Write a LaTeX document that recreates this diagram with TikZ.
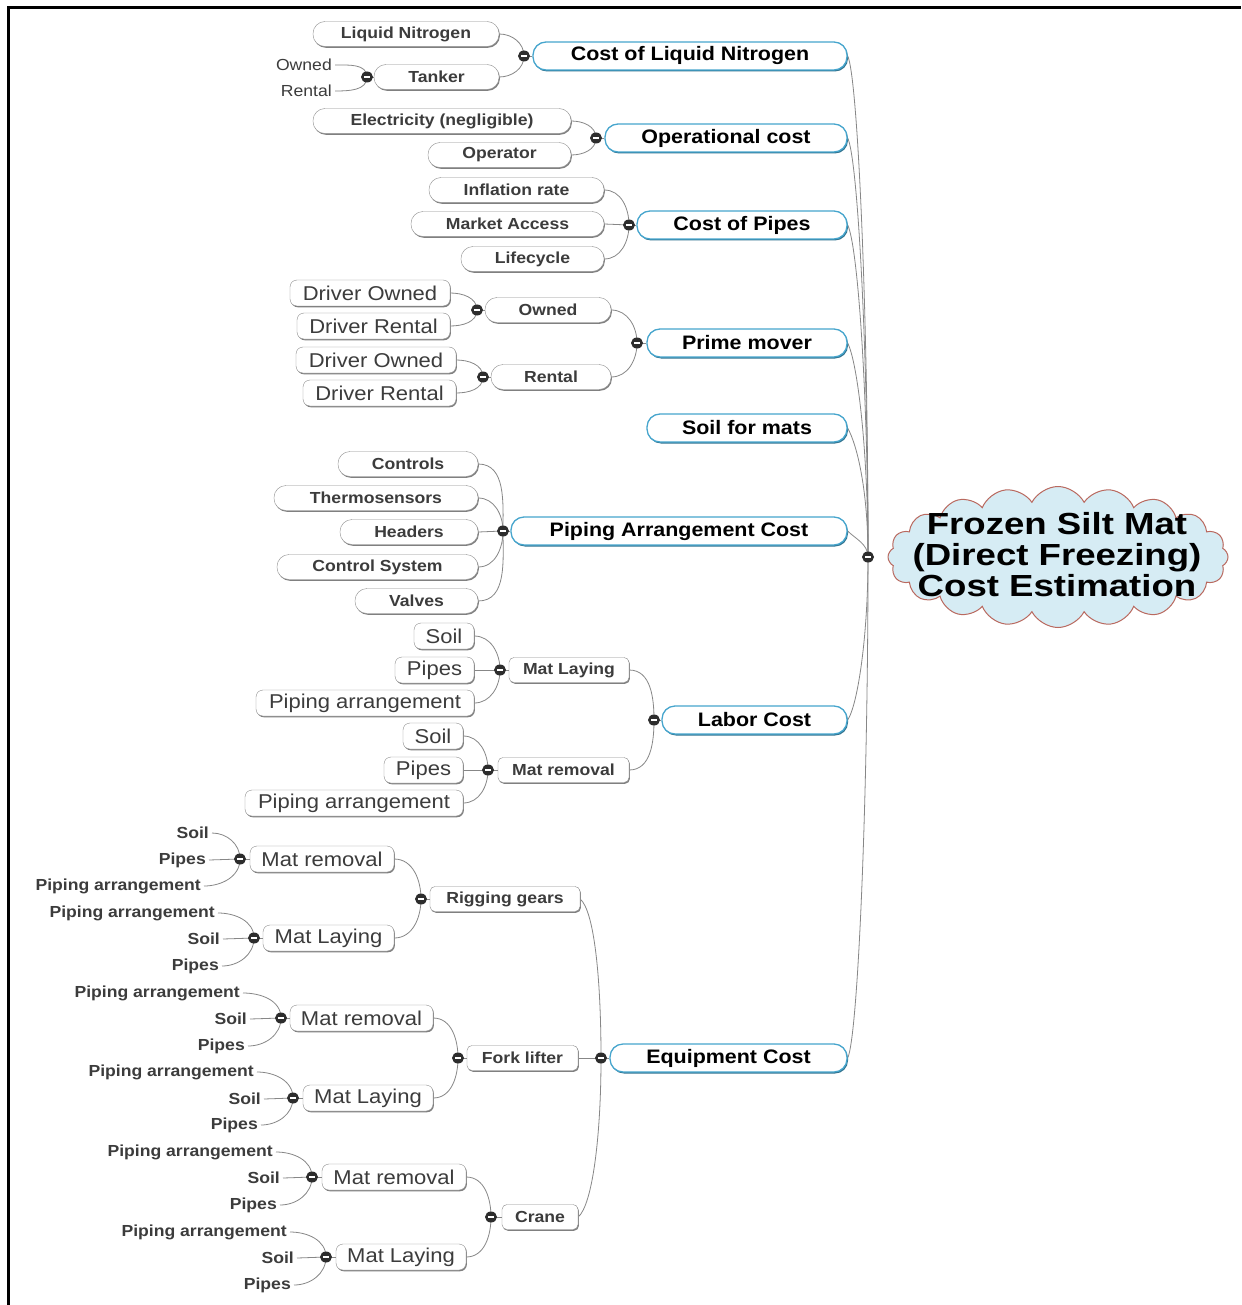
\documentclass[tikz,border=0pt]{standalone}
\usepackage{fontspec}
\setmainfont{Liberation Sans}[FakeStretch=1.1]
\newfontfamily\titlefont{Liberation Sans}[FakeStretch=1.2]
\usetikzlibrary{shapes.symbols,shapes.geometric,shadows,backgrounds}

\definecolor{mainblue}{RGB}{70,165,205}
\definecolor{linegray}{RGB}{135,135,135}
\definecolor{pillgray}{RGB}{140,140,140}
\definecolor{textgray}{RGB}{60,60,60}
\definecolor{hubgray}{RGB}{45,45,45}
\definecolor{cloudfill}{RGB}{214,236,244}
\definecolor{cloudline}{RGB}{185,105,95}

\tikzset{
  boxshadow/.style={drop shadow={shadow xshift=0.9pt, shadow yshift=-1.3pt, fill=black!50, opacity=1}},
  mainbox/.style={draw=mainblue, line width=1.3pt, fill=white, rounded corners=13pt,
    minimum height=28pt, inner sep=0pt, font=\fontsize{19.5}{22}\selectfont\bfseries,
    drop shadow={shadow xshift=1pt, shadow yshift=-1.5pt, fill=mainblue!70!black, opacity=1}},
  pill/.style={draw=pillgray, fill=white, rounded corners=12pt, minimum height=25pt,
    inner sep=0pt, font=\fontsize{16}{18}\selectfont\bfseries, text=textgray, boxshadow},
  tagbox/.style={draw=pillgray, fill=white, rounded corners=5pt, minimum height=25pt,
    inner sep=0pt, font=\fontsize{16}{18}\selectfont\bfseries, text=textgray, boxshadow},
  plainbox/.style={draw=pillgray, fill=white, rounded corners=7pt, minimum height=26pt,
    inner sep=0pt, font=\fontsize{20}{22}\selectfont, text=textgray, boxshadow},
  leaf/.style={anchor=east, inner sep=3pt, font=\fontsize{16}{18}\selectfont\bfseries, text=textgray},
  leafreg/.style={anchor=east, inner sep=3pt, font=\fontsize{16}{18}\selectfont, text=textgray},
  hub/.style={ellipse, fill=hubgray, minimum width=12pt, minimum height=11pt, inner sep=0pt,
    path picture={\draw[white, line width=1.1pt]
      ([xshift=-3pt]path picture bounding box.center) -- ([xshift=3pt]path picture bounding box.center);}},
  conn/.style={draw=linegray, line width=0.8pt},
}

% child above / below / level with its hub
\newcommand\linkup[2]{\draw[conn] (#1.east) to[out=0,in=90] (#2.center);}
\newcommand\linkdn[2]{\draw[conn] (#1.east) to[out=0,in=-90] (#2.center);}
\newcommand\linkflat[2]{\draw[conn] (#1.east) -- (#2.center);}

\begin{document}
\begin{tikzpicture}[x=1pt,y=1pt]
\useasboundingbox (0,0) rectangle (1241,-1305);

% ---------- central topic ----------
\node[cloud, cloud puffs=20, cloud puff arc=125, aspect=2.4, draw=cloudline, line width=1pt,
      fill=cloudfill, minimum width=340pt, minimum height=141pt, inner sep=0pt] (root) at (1058,-557) {};
\node[font=\titlefont\fontsize{30.5}{31}\selectfont\bfseries, align=center] (roottext) at (1057,-555)
  {Frozen Silt Mat\\(Direct Freezing)\\Cost Estimation};
\node[hub] (rh) at (868,-557) {};

% ---------- main branches ----------
\node[mainbox, minimum width=314pt] (m1) at (690,-56)   {Cost of Liquid Nitrogen};
\node[mainbox, minimum width=242pt] (m2) at (726,-138)  {Operational cost};
\node[mainbox, minimum width=210pt] (m3) at (742,-225)  {Cost of Pipes};
\node[mainbox, minimum width=200pt] (m4) at (747,-343)  {Prime mover};
\node[mainbox, minimum width=200pt] (m5) at (747,-428)  {Soil for mats};
\node[mainbox, minimum width=336pt] (m6) at (679,-531)  {Piping Arrangement Cost};
\node[mainbox, minimum width=185pt] (m7) at (754.5,-720) {Labor Cost};
\node[mainbox, minimum width=237pt] (m8) at (728.5,-1058) {Equipment Cost};

\node[hub] (h1) at (524,-56) {};
\node[hub] (h2) at (596,-138) {};
\node[hub] (h3) at (629,-225) {};
\node[hub] (h4) at (637,-343) {};
\node[hub] (h6) at (503,-531) {};
\node[hub] (h7) at (654,-720) {};
\node[hub] (h8) at (601,-1058) {};

% ---------- cost of liquid nitrogen ----------
\node[pill, minimum width=186pt] (p1a) at (406,-34) {Liquid Nitrogen};
\node[pill, minimum width=125pt] (p1b) at (436.5,-77) {Tanker};
\node[hub] (h1b) at (367,-77) {};
\node[leafreg] (l1b1) at (335,-65) {Owned};
\node[leafreg] (l1b2) at (335,-91) {Rental};

% ---------- operational cost ----------
\node[pill, minimum width=258pt] (p2a) at (442,-121) {Electricity (negligible)};
\node[pill, minimum width=143pt] (p2b) at (499.5,-155) {Operator};

% ---------- cost of pipes ----------
\node[pill, minimum width=175pt] (p3a) at (516.5,-190) {Inflation rate};
\node[pill, minimum width=193pt] (p3b) at (507.5,-224) {Market Access};
\node[pill, minimum width=143pt] (p3c) at (532.5,-259) {Lifecycle};

% ---------- prime mover ----------
\node[pill, minimum width=126pt] (p4a) at (548,-310) {Owned};
\node[hub] (h4a) at (477,-310) {};
\node[plainbox, minimum width=160pt] (r4a1) at (370,-293) {Driver Owned};
\node[plainbox, minimum width=153pt] (r4a2) at (373.5,-326) {Driver Rental};
\node[pill, minimum width=120pt] (p4b) at (551,-377) {Rental};
\node[hub] (h4b) at (483,-377) {};
\node[plainbox, minimum width=160pt] (r4b1) at (376,-360) {Driver Owned};
\node[plainbox, minimum width=153pt] (r4b2) at (379.5,-393) {Driver Rental};

% ---------- piping arrangement cost ----------
\node[pill, minimum width=140pt] (p6a) at (408,-464) {Controls};
\node[pill, minimum width=204pt] (p6b) at (376,-498) {Thermosensors};
\node[pill, minimum width=138pt] (p6c) at (409,-532) {Headers};
\node[pill, minimum width=201pt] (p6d) at (377.5,-567) {Control System};
\node[pill, minimum width=123pt] (p6e) at (416.5,-601) {Valves};

% ---------- labor cost ----------
\node[tagbox, minimum width=120pt] (t7a) at (569,-670) {Mat Laying};
\node[hub] (h7a) at (500,-670) {};
\node[plainbox, minimum width=60pt]  (r7a1) at (444,-636) {Soil};
\node[plainbox, minimum width=79pt]  (r7a2) at (434.5,-670) {Pipes};
\node[plainbox, minimum width=218pt] (r7a3) at (365,-703) {Piping arrangement};
\node[tagbox, minimum width=131pt] (t7b) at (563.5,-770) {Mat removal};
\node[hub] (h7b) at (488,-770) {};
\node[plainbox, minimum width=60pt]  (r7b1) at (433,-736) {Soil};
\node[plainbox, minimum width=79pt]  (r7b2) at (423.5,-770) {Pipes};
\node[plainbox, minimum width=218pt] (r7b3) at (354,-803) {Piping arrangement};

% ---------- equipment cost ----------
\node[tagbox, minimum width=150pt] (t8a) at (505,-899) {Rigging gears};
\node[hub] (h8a) at (421,-899) {};
\node[plainbox, minimum width=144pt] (r8a1) at (322,-859) {Mat removal};
\node[hub] (h8a1) at (240,-859) {};
\node[leaf] (l8a1a) at (212,-833) {Soil};
\node[leaf] (l8a1b) at (209,-860) {Pipes};
\node[leaf] (l8a1c) at (204,-886) {Piping arrangement};
\node[plainbox, minimum width=131pt] (r8a2) at (328.5,-938) {Mat Laying};
\node[hub] (h8a2) at (254,-938) {};
\node[leaf] (l8a2a) at (218,-913) {Piping arrangement};
\node[leaf] (l8a2b) at (223,-939) {Soil};
\node[leaf] (l8a2c) at (222,-966) {Pipes};

\node[tagbox, minimum width=111pt] (t8b) at (522.5,-1058) {Fork lifter};
\node[hub] (h8b) at (458,-1058) {};
\node[plainbox, minimum width=143pt] (r8b1) at (361.5,-1018) {Mat removal};
\node[hub] (h8b1) at (281,-1018) {};
\node[leaf] (l8b1a) at (243,-993) {Piping arrangement};
\node[leaf] (l8b1b) at (250,-1019) {Soil};
\node[leaf] (l8b1c) at (248,-1046) {Pipes};
\node[plainbox, minimum width=130pt] (r8b2) at (368,-1098) {Mat Laying};
\node[hub] (h8b2) at (293,-1098) {};
\node[leaf] (l8b2a) at (257,-1072) {Piping arrangement};
\node[leaf] (l8b2b) at (264,-1099) {Soil};
\node[leaf] (l8b2c) at (261,-1125) {Pipes};

\node[tagbox, minimum width=76pt] (t8c) at (540,-1217) {Crane};
\node[hub] (h8c) at (491,-1217) {};
\node[plainbox, minimum width=144pt] (r8c1) at (394,-1177) {Mat removal};
\node[hub] (h8c1) at (312,-1177) {};
\node[leaf] (l8c1a) at (276,-1152) {Piping arrangement};
\node[leaf] (l8c1b) at (283,-1178) {Soil};
\node[leaf] (l8c1c) at (280,-1205) {Pipes};
\node[plainbox, minimum width=130pt] (r8c2) at (401,-1257) {Mat Laying};
\node[hub] (h8c2) at (326,-1257) {};
\node[leaf] (l8c2a) at (290,-1232) {Piping arrangement};
\node[leaf] (l8c2b) at (297,-1258) {Soil};
\node[leaf] (l8c2c) at (294,-1285) {Pipes};

% ---------- connectors ----------
\begin{pgfonlayer}{background}
\fill[white] (0,0) rectangle (1241,-1305);

% main branches into the central hub
\draw[conn] (m1.east) .. controls +(10,-20) and +(0,250) .. (rh.center);
\draw[conn] (m2.east) .. controls +(10,-20) and +(0,210) .. (rh.center);
\draw[conn] (m3.east) .. controls +(10,-20) and +(0,166) .. (rh.center);
\draw[conn] (m4.east) .. controls +(10,-20) and +(0,107) .. (rh.center);
\draw[conn] (m5.east) .. controls +(10,-18) and +(0,65) .. (rh.center);
\draw[conn] (m6.east) .. controls +(8,-8) and +(0,13) .. (rh.center);
\draw[conn] (m7.east) .. controls +(10,15) and +(0,-80) .. (rh.center);
\draw[conn] (m8.east) .. controls +(10,20) and +(0,-250) .. (rh.center);

% hubs to their topics
\foreach \h/\t in {h1/m1,h2/m2,h3/m3,h4/m4,h6/m6,h7/m7,h8/m8,h1b/p1b,h4a/p4a,h4b/p4b,
                   h7a/t7a,h7b/t7b,h8a/t8a,h8b/t8b,h8c/t8c,h8a1/r8a1,h8a2/r8a2,
                   h8b1/r8b1,h8b2/r8b2,h8c1/r8c1,h8c2/r8c2}
  \draw[conn] (\h.center) -- (\t.west);

% cost of liquid nitrogen
\linkup{p1a}{h1} \linkdn{p1b}{h1}
\linkup{l1b1}{h1b} \linkdn{l1b2}{h1b}
% operational cost
\linkup{p2a}{h2} \linkdn{p2b}{h2}
% cost of pipes
\linkup{p3a}{h3} \linkflat{p3b}{h3} \linkdn{p3c}{h3}
% prime mover
\linkup{p4a}{h4} \linkdn{p4b}{h4}
\linkup{r4a1}{h4a} \linkdn{r4a2}{h4a}
\linkup{r4b1}{h4b} \linkdn{r4b2}{h4b}
% piping arrangement cost
\linkup{p6a}{h6} \linkup{p6b}{h6} \linkflat{p6c}{h6} \linkdn{p6d}{h6} \linkdn{p6e}{h6}
% labor cost
\linkup{t7a}{h7} \linkdn{t7b}{h7}
\linkup{r7a1}{h7a} \linkflat{r7a2}{h7a} \linkdn{r7a3}{h7a}
\linkup{r7b1}{h7b} \linkflat{r7b2}{h7b} \linkdn{r7b3}{h7b}
% equipment cost
\draw[conn] (t8a.east) .. controls +(14,-12) and +(0,80) .. (h8.center);
\linkflat{t8b}{h8}
\draw[conn] (t8c.east) .. controls +(14,12) and +(0,-80) .. (h8.center);
\linkup{r8a1}{h8a} \linkdn{r8a2}{h8a}
\linkup{r8b1}{h8b} \linkdn{r8b2}{h8b}
\linkup{r8c1}{h8c} \linkdn{r8c2}{h8c}
\linkup{l8a1a}{h8a1} \linkflat{l8a1b}{h8a1} \linkdn{l8a1c}{h8a1}
\linkup{l8a2a}{h8a2} \linkflat{l8a2b}{h8a2} \linkdn{l8a2c}{h8a2}
\linkup{l8b1a}{h8b1} \linkflat{l8b1b}{h8b1} \linkdn{l8b1c}{h8b1}
\linkup{l8b2a}{h8b2} \linkflat{l8b2b}{h8b2} \linkdn{l8b2c}{h8b2}
\linkup{l8c1a}{h8c1} \linkflat{l8c1b}{h8c1} \linkdn{l8c1c}{h8c1}
\linkup{l8c2a}{h8c2} \linkflat{l8c2b}{h8c2} \linkdn{l8c2c}{h8c2}
\end{pgfonlayer}

% page frame
\draw[line width=3pt] (8,-1305) -- (8,-7.5) -- (1241,-7.5);
\end{tikzpicture}
\end{document}
